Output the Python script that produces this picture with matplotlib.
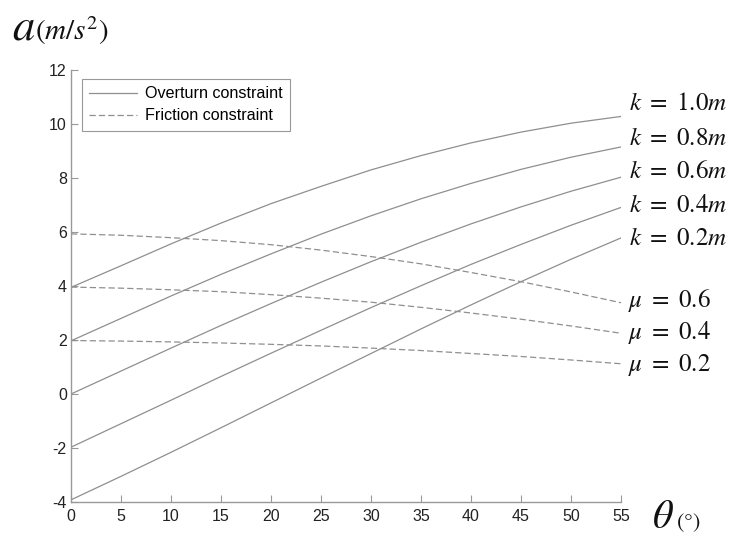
import matplotlib
matplotlib.use("Agg")
import matplotlib.pyplot as plt

plt.rcParams['font.family'] = ['Liberation Sans', 'DejaVu Sans']
plt.rcParams['mathtext.fontset'] = 'stix'
plt.rcParams['axes.unicode_minus'] = False

theta = [0, 5, 10, 15, 20, 25, 30, 35, 40, 45, 50, 55]

k_labels = ["1.0", "0.8", "0.6", "0.4", "0.2"]
overturn = [
    [3.95, 4.75, 5.56, 6.33, 7.05, 7.69, 8.30, 8.83, 9.30, 9.70, 10.03, 10.28],
    [1.97, 2.80, 3.63, 4.43, 5.19, 5.92, 6.60, 7.23, 7.80, 8.32, 8.77, 9.15],
    [0.00, 0.85, 1.70, 2.54, 3.35, 4.14, 4.90, 5.62, 6.30, 6.93, 7.51, 8.03],
    [-1.97, -1.10, -0.23, 0.65, 1.51, 2.36, 3.20, 4.01, 4.80, 5.54, 6.25, 6.91],
    [-3.92, -3.05, -2.16, -1.25, -0.33, 0.59, 1.50, 2.41, 3.30, 4.16, 4.99, 5.78],
]
k_label_y = [10.78, 9.48, 8.26, 7.00, 5.78]

mu_labels = ["0.6", "0.4", "0.2"]
friction = [
    [5.93, 5.88, 5.79, 5.68, 5.53, 5.33, 5.09, 4.82, 4.50, 4.16, 3.78, 3.38],
    [3.96, 3.92, 3.86, 3.79, 3.68, 3.55, 3.40, 3.21, 3.00, 2.77, 2.52, 2.25],
    [1.98, 1.96, 1.93, 1.89, 1.84, 1.78, 1.70, 1.61, 1.50, 1.39, 1.26, 1.12],
]
mu_label_y = [3.48, 2.26, 1.07]

xticks = list(range(0, 60, 5))
yticks = list(range(-4, 14, 2))

fig = plt.figure(figsize=(7.32, 5.36), dpi=100)
ax = fig.add_axes([71/732, 1-502/536, 550/732, 432/536])

line_col = '#8f8f8f'
for i, ys in enumerate(overturn):
    ax.plot(theta, ys, color=line_col, lw=0.9, ls='-',
            label='Overturn constraint' if i == 0 else None)
for i, ys in enumerate(friction):
    ax.plot(theta, ys, color=line_col, lw=0.9, ls=(0, (5, 2.5)),
            label='Friction constraint' if i == 0 else None)

ax.set_xlim(0, 55)
ax.set_ylim(-4, 12)
ax.set_xticks(xticks)
ax.set_yticks(yticks)
ax.tick_params(direction='in', length=5, width=0.8, color='#999999',
               labelsize=11.5, labelcolor='#222222')
ax.tick_params(axis='x', pad=5)
ax.tick_params(axis='y', pad=3)
for s in ['top', 'right']:
    ax.spines[s].set_visible(False)
for s in ['left', 'bottom']:
    ax.spines[s].set_color('#999999')
    ax.spines[s].set_linewidth(1.0)

leg = ax.legend(loc='upper left', bbox_to_anchor=(11/550, 1-9/432),
                borderaxespad=0, fontsize=11.6, handlelength=2.95,
                labelspacing=0.45, fancybox=False, framealpha=1,
                edgecolor='#999999', borderpad=0.45, handletextpad=0.5)
leg.get_frame().set_linewidth(0.8)

for lab, y in zip(k_labels, k_label_y):
    ax.text(55.8, y, r'$k\ =\ %s m$' % lab, fontsize=18, va='center', ha='left',
            clip_on=False, color='#111111')
for lab, y in zip(mu_labels, mu_label_y):
    ax.text(55.7, y, r'$\mu\ =\ %s$' % lab, fontsize=18, va='center', ha='left',
            clip_on=False, color='#111111')

fig.text(12/732, 1-40/536, r'$a$', fontsize=32, ha='left', va='baseline', color='#111111')
fig.text(35/732, 1-40/536, r'$(m/s^2)$', fontsize=21, ha='left', va='baseline', color='#111111')
fig.text(652/732, 1-528/536, r'$\theta$', fontsize=29, ha='left', va='baseline', color='#111111')
fig.text(676/732, 1-528/536, r'$(\degree)$', fontsize=16, ha='left', va='baseline', color='#111111')

fig.savefig('out.png', dpi=100)
